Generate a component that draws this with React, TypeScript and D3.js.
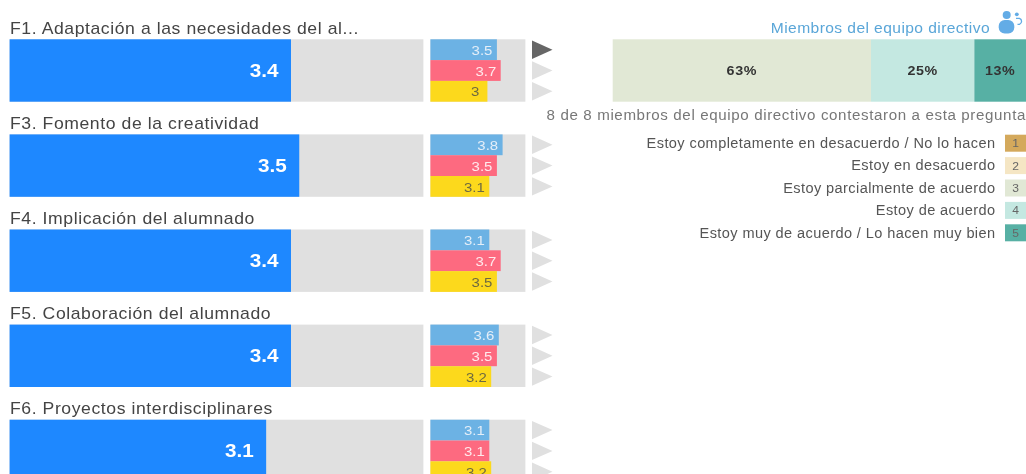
import React from "react";
import * as d3 from "d3";

const titles = [
  "F1. Adaptación a las necesidades del al...",
  "F3. Fomento de la creatividad",
  "F4. Implicación del alumnado",
  "F5. Colaboración del alumnado",
  "F6. Proyectos interdisciplinares",
];
const totals = [3.4, 3.5, 3.4, 3.4, 3.1];
const groupA = [3.5, 3.8, 3.1, 3.6, 3.1];
const groupB = [3.7, 3.5, 3.7, 3.5, 3.1];
const groupC = [3, 3.1, 3.5, 3.2, 3.2];
const stackValues = [62.5, 25, 12.5];
const stackLabels = ["63%", "25%", "13%"];
const stackColors = ["#e1e8d5", "#c4e8e1", "#57b0a4"];
const legendLabels = [
  "Estoy completamente en desacuerdo / No lo hacen",
  "Estoy en desacuerdo",
  "Estoy parcialmente de acuerdo",
  "Estoy de acuerdo",
  "Estoy muy de acuerdo / Lo hacen muy bien",
];
const legendKeys = ["1", "2", "3", "4", "5"];
const legendColors = ["#d4a95c", "#f5e6c4", "#e1e8d5", "#c4e8e1", "#57b0a4"];
const groupColors = ["#6cb2e4", "#fd6a80", "#fcd91c"];
const groupText = ["#e4eef8", "#ffe9ec", "#6e6a40"];

const FONT = "'Liberation Sans', Arial, sans-serif";

function T({ x, y, sx = 1.15, children, ...rest }: any) {
  return (
    <text transform={`translate(${x} ${y}) scale(${sx} 1)`} {...rest}>
      {children}
    </text>
  );
}

export default function App() {
  const rowY = d3.scaleLinear().domain([0, 1]).range([39.3, 134.4]);
  const mainX = d3.scaleLinear().domain([0, 5]).range([9.6, 423.4]);
  const smallX = d3.scaleLinear().domain([0, 5]).range([430.4, 525.4]);
  const stackX = d3.scaleLinear().domain([0, 100]).range([612.7, 1026]);
  const barH = 62.4;
  const subBand = d3.scaleBand<number>().domain([0, 1, 2]).range([0, barH]);
  const legendY = d3.scaleLinear().domain([0, 1]).range([143.2, 165.6]);
  let acc = 0;
  const stack = stackValues.map((v) => {
    const s = { x0: acc, x1: acc + v };
    acc += v;
    return s;
  });
  return (
    <svg
      width={1026}
      height={474}
      style={{ position: "absolute", left: 0, top: 0, background: "#fff", fontFamily: FONT, filter: "blur(0.4px)" }}
    >
      {titles.map((t, i) => {
        const y = rowY(i);
        const groups = [groupA[i], groupB[i], groupC[i]];
        return (
          <g key={t}>
            <T x={10} y={y - 5.8} sx={1.1} letterSpacing={0.53} fontSize={16} fill="#444">
              {t}
            </T>
            <rect x={mainX(0)} y={y} width={mainX(5) - mainX(0)} height={barH} fill="#e0e0e0" />
            <rect x={mainX(0)} y={y} width={mainX(totals[i]) - mainX(0)} height={barH} fill="#1e88ff" />
            <T
              x={mainX(totals[i]) - 12.5}
              y={y + barH / 2 + 6.5}
              textAnchor="end"
              fontSize={18}
              fontWeight="bold"
              fill="#fff"
            >
              {totals[i]}
            </T>
            <rect x={smallX(0)} y={y} width={smallX(5) - smallX(0)} height={barH} fill="#e0e0e0" />
            {groups.map((v, k) => (
              <g key={k}>
                <rect
                  x={smallX(0)}
                  y={y + subBand(k)!}
                  width={smallX(v) - smallX(0)}
                  height={subBand.bandwidth()}
                  fill={groupColors[k]}
                />
                <T
                  x={v === 3 ? smallX(v) - 8 : smallX(v) - 4.5}
                  y={y + subBand(k)! + 15.5}
                  textAnchor="end"
                  fontSize={13}
                  fill={groupText[k]}
                >
                  {v}
                </T>
                <path
                  d={`M532 ${y + subBand(k)! + 1.2}L552.5 ${y + subBand(k)! + 10.4}L532 ${y + subBand(k)! + 19.6}Z`}
                  fill={i === 0 && k === 0 ? "#666" : "#e0e0e0"}
                />
              </g>
            ))}
          </g>
        );
      })}

      <T x={990} y={32.5} sx={1.04} letterSpacing={0.4} textAnchor="end" fontSize={15} fill="#5aa6d8">
        Miembros del equipo directivo
      </T>
      <g fill="#63ace6">
        <circle cx={1006.7} cy={15} r={4} />
        <rect x={998.7} y={20} width={15.6} height={13.5} rx={6} />
        <circle cx={1016.8} cy={14.3} r={1.9} />
        <path d="M1016 18.3h3.5a3.2 3.2 0 0 1 0 6h-2" fill="none" stroke="#63ace6" strokeWidth={1.3} />
      </g>

      {stack.map((s, i) => (
        <g key={i}>
          <rect x={stackX(s.x0)} y={rowY(0)} width={stackX(s.x1) - stackX(s.x0)} height={barH} fill={stackColors[i]} />
          <T
            x={(stackX(s.x0) + stackX(s.x1)) / 2}
            y={rowY(0) + barH / 2 + 4.8}
            textAnchor="middle"
            sx={1.06}
            letterSpacing={0.6}
            fontSize={13.5}
            fontWeight="bold"
            fill="#333"
          >
            {stackLabels[i]}
          </T>
        </g>
      ))}

      <T x={1026} y={120} sx={1.08} letterSpacing={0.58} textAnchor="end" fontSize={14} fill="#777">
        8 de 8 miembros del equipo directivo contestaron a esta pregunta
      </T>

      {legendLabels.map((l, i) => (
        <g key={l}>
          <T x={995.5} y={legendY(i) + 4.8} sx={1.04} letterSpacing={0.39} textAnchor="end" fontSize={14} fill="#555">
            {l}
          </T>
          <rect x={1005} y={legendY(i) - 8.5} width={21} height={17} fill={legendColors[i]} />
          <T x={1015.5} y={legendY(i) + 4} sx={1.1} textAnchor="middle" fontSize={11} fill="#666">
            {legendKeys[i]}
          </T>
        </g>
      ))}
    </svg>
  );
}
